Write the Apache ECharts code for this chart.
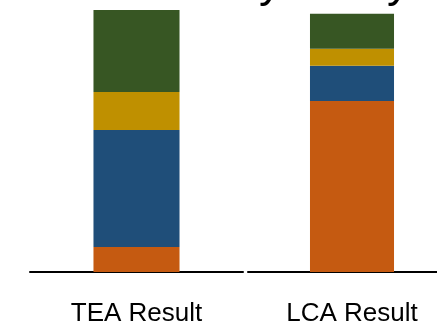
<!DOCTYPE html>
<html>
<head>
<meta charset="utf-8">
<script src="https://cdn.jsdelivr.net/npm/echarts@6/dist/echarts.min.js"></script>
<style>
  html, body { margin: 0; padding: 0; background: #fff; }
  #chart { width: 437px; height: 324px; }
</style>
</head>
<body>
<div id="chart"></div>
<script>
// Share of each component in the two results (percent of the TEA total)
const panels = ['TEA Result', 'LCA Result'];
const componentNames = ['Part A', 'Part B', 'Part C', 'Part D'];
const teaValues = [9.5, 44.7, 14.5, 31.3];
const lcaValues = [65.3, 13.4, 6.5, 13.4];
const componentColors = ['#C55A11', '#1F4E79', '#BF9000', '#375623'];
const titleText = 'Sensitivity Analysis';

const panelValues = [teaValues, lcaValues];

const chart = echarts.init(document.getElementById('chart'), null, { renderer: 'canvas' });

// The second panel runs past the right edge of the canvas
const grids = [
  { left: 30, width: 213, top: 10, bottom: 52, outerBoundsMode: 'none', containLabel: false },
  { left: 248, width: 208, top: 10, bottom: 52, outerBoundsMode: 'none', containLabel: false }
];

const xAxes = panels.map((name, i) => ({
  type: 'category',
  gridIndex: i,
  data: [name],
  axisTick: { show: false },
  axisLine: { show: true, lineStyle: { color: '#000', width: 2 } },
  axisLabel: {
    color: '#000',
    fontFamily: 'Liberation Sans, Arial, sans-serif',
    fontSize: 26,
    margin: 29
  }
}));

const yAxes = panels.map((_, i) => ({
  type: 'value',
  gridIndex: i,
  min: 0,
  max: 100,
  show: false,
  splitLine: { show: false }
}));

const series = [];
panelValues.forEach((values, p) => {
  values.forEach((v, k) => {
    series.push({
      type: 'bar',
      name: componentNames[k],
      xAxisIndex: p,
      yAxisIndex: p,
      stack: 'panel' + p,
      barWidth: '40.4%',
      data: [v],
      itemStyle: { color: componentColors[k] },
      emphasis: { disabled: true },
      animation: false
    });
  });
});

chart.setOption({
  animation: false,
  backgroundColor: '#fff',
  grid: grids,
  xAxis: xAxes,
  yAxis: yAxes,
  series: series,
  graphic: [{
    type: 'text',
    x: 75,
    y: -17,
    style: {
      text: titleText,
      fill: '#000',
      font: '46px "Liberation Sans", Arial, sans-serif',
      verticalAlign: 'middle'
    }
  }]
});
</script>
</body>
</html>
